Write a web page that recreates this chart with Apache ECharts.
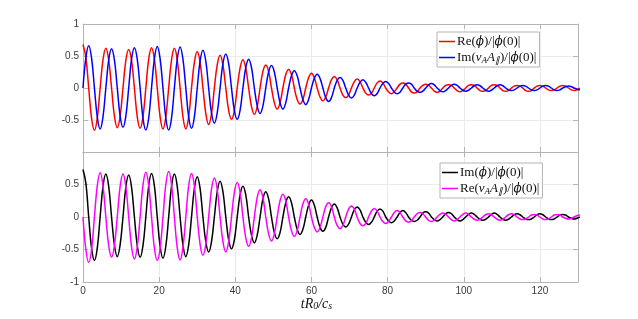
<!DOCTYPE html>
<html><head><meta charset="utf-8">
<script src="https://cdn.jsdelivr.net/npm/echarts/dist/echarts.min.js"></script>
<style>html,body{margin:0;padding:0;background:#fff}#c{width:638px;height:319px}</style>
</head><body><div id="c"></div>
<script>
// sample times (t R0 / c_s)
const tGrid = [
0,0.75,1.5,2.25, 3,3.75,4.5,5.25, 6,6.75,7.5,8.25, 9,9.75,10.5,11.25,
12,12.75,13.5,14.25, 15,15.75,16.5,17.25, 18,18.75,19.5,20.25, 21,21.75,22.5,23.25,
24,24.75,25.5,26.25, 27,27.75,28.5,29.25, 30,30.75,31.5,32.25, 33,33.75,34.5,35.25,
36,36.75,37.5,38.25, 39,39.75,40.5,41.25, 42,42.75,43.5,44.25, 45,45.75,46.5,47.25,
48,48.75,49.5,50.25, 51,51.75,52.5,53.25, 54,54.75,55.5,56.25, 57,57.75,58.5,59.25,
60,60.75,61.5,62.25, 63,63.75,64.5,65.25, 66,66.75,67.5,68.25, 69,69.75,70.5,71.25,
72,72.75,73.5,74.25, 75,75.75,76.5,77.25, 78,78.75,79.5,80.25, 81,81.75,82.5,83.25,
84,84.75,85.5,86.25, 87,87.75,88.5,89.25, 90,90.75,91.5,92.25, 93,93.75,94.5,95.25,
96,96.75,97.5,98.25, 99,99.75,100.5,101.25, 102,102.75,103.5,104.25, 105,105.75,106.5,107.25,
108,108.75,109.5,110.25, 111,111.75,112.5,113.25, 114,114.75,115.5,116.25, 117,117.75,118.5,119.25,
120,120.75,121.5,122.25, 123,123.75,124.5,125.25, 126,126.75,127.5,128.25, 129,129.75,130.5];

// top panel: Re(phi)/|phi(0)|
const rePhi = [
0.68,0.48,0,-0.47, -0.66,-0.47,0,0.44, 0.62,0.44,0,-0.44, -0.62,-0.44,0,0.43,
0.60,0.43,0,-0.45, -0.63,-0.45,0,0.45, 0.63,0.45,0,-0.45, -0.64,-0.45,0,0.44,
0.62,0.44,0,-0.45, -0.64,-0.45,0,0.40, 0.57,0.40,0,-0.40, -0.57,-0.40,0,0.36,
0.51,0.36,0,-0.35, -0.49,-0.35,0,0.31, 0.44,0.31,0,-0.29, -0.41,-0.29,0,0.26,
0.36,0.26,0,-0.23, -0.33,-0.23,0,0.21, 0.29,0.21,0,-0.18, -0.25,-0.18,0,0.16,
0.23,0.16,0,-0.14, -0.20,-0.14,0,0.13, 0.18,0.13,0,-0.11, -0.15,-0.11,0,0.10,
0.14,0.10,0,-0.08, -0.11,-0.08,0,0.08, 0.11,0.08,0,-0.06, -0.09,-0.06,0,0.06,
0.08,0.06,0,-0.06, -0.08,-0.06,0,0.04, 0.06,0.04,0,-0.05, -0.07,-0.05,0,0.04,
0.05,0.04,0,-0.04, -0.06,-0.04,0,0.04, 0.05,0.04,0,-0.04, -0.05,-0.04,0,0.04,
0.05,0.04,0,-0.04, -0.05,-0.04,0,0.03, 0.04,0.03,0,-0.04, -0.05,-0.04,0,0.03,
0.04,0.03,0,-0.03, -0.04,-0.03,0,0.03, 0.04,0.03,0,-0.03, -0.04,-0.03,0];

// top panel: Im(vA A_par)/|phi(0)|
const imVA = [
0,0.47,0.66,0.47, 0,-0.45,-0.64,-0.45, 0,0.44,0.615,0.44, 0,-0.44,-0.615,-0.44,
0,0.45,0.63,0.45, 0,-0.47,-0.657,-0.47, 0,0.46,0.65,0.46, 0,-0.47,-0.657,-0.47,
0,0.45,0.64,0.45, 0,-0.45,-0.63,-0.45, 0,0.42,0.59,0.42, 0,-0.39,-0.55,-0.39,
0,0.38,0.53,0.38, 0,-0.35,-0.49,-0.35, 0,0.32,0.45,0.32, 0,-0.28,-0.40,-0.28,
0,0.25,0.35,0.25, 0,-0.23,-0.33,-0.23, 0,0.19,0.27,0.19, 0,-0.18,-0.26,-0.18,
0,0.15,0.215,0.15, 0,-0.15,-0.21,-0.15, 0,0.12,0.165,0.12, 0,-0.11,-0.155,-0.11,
0,0.09,0.13,0.09, 0,-0.085,-0.12,-0.085, 0,0.07,0.10,0.07, 0,-0.065,-0.09,-0.065,
0,0.06,0.08,0.06, 0,-0.05,-0.07,-0.05, 0,0.05,0.07,0.05, 0,-0.04,-0.06,-0.04,
0,0.04,0.06,0.04, 0,-0.035,-0.05,-0.035, 0,0.035,0.05,0.035, 0,-0.035,-0.05,-0.035,
0,0.035,0.05,0.035, 0,-0.03,-0.04,-0.03, 0,0.03,0.04,0.03, 0,-0.03,-0.04,-0.03,
0,0.03,0.04,0.03, 0,-0.03,-0.04,-0.03, 0,0.02,0.03,0.02, 0,-0.02,-0.03];

// bottom panel: Im(phi)/|phi(0)|
const imPhi = [
0.73,0.52,0,-0.48, -0.67,-0.48,0,0.47, 0.66,0.47,0,-0.43, -0.61,-0.43,0,0.46,
0.645,0.46,0,-0.44, -0.62,-0.44,0,0.48, 0.67,0.48,0,-0.45, -0.635,-0.45,0,0.47,
0.66,0.47,0,-0.43, -0.61,-0.43,0,0.44, 0.62,0.44,0,-0.38, -0.54,-0.38,0,0.39,
0.55,0.39,0,-0.35, -0.49,-0.35,0,0.34, 0.475,0.34,0,-0.28, -0.40,-0.28,0,0.28,
0.39,0.28,0,-0.24, -0.335,-0.24,0,0.22, 0.31,0.22,0,-0.19, -0.27,-0.19,0,0.18,
0.26,0.18,0,-0.16, -0.22,-0.16,0,0.14, 0.20,0.14,0,-0.11, -0.155,-0.11,0,0.11,
0.155,0.11,0,-0.08, -0.115,-0.08,0,0.09, 0.125,0.09,0,-0.06, -0.09,-0.06,0,0.07,
0.10,0.07,0,-0.05, -0.07,-0.05,0,0.06, 0.08,0.06,0,-0.04, -0.06,-0.04,0,0.05,
0.07,0.05,0,-0.04, -0.06,-0.04,0,0.04, 0.06,0.04,0,-0.035, -0.05,-0.035,0,0.04,
0.06,0.04,0,-0.035, -0.05,-0.035,0,0.035, 0.05,0.035,0,-0.03, -0.04,-0.03,0,0.035,
0.05,0.035,0,-0.03, -0.04,-0.03,0,0.03, 0.04,0.03,0,-0.02, -0.03,-0.02,0];

// bottom panel: Re(vA A_par)/|phi(0)|
const reVA = [
0,-0.50,-0.70,-0.50, 0,0.48,0.68,0.48, 0,-0.44,-0.62,-0.44, 0,0.47,0.66,0.47,
0,-0.46,-0.645,-0.46, 0,0.49,0.69,0.49, 0,-0.48,-0.67,-0.48, 0,0.50,0.70,0.50,
0,-0.47,-0.66,-0.47, 0,0.48,0.67,0.48, 0,-0.42,-0.59,-0.42, 0,0.43,0.60,0.43,
0,-0.38,-0.54,-0.38, 0,0.38,0.53,0.38, 0,-0.32,-0.45,-0.32, 0,0.30,0.42,0.30,
0,-0.26,-0.37,-0.26, 0,0.25,0.35,0.25, 0,-0.21,-0.30,-0.21, 0,0.20,0.28,0.20,
0,-0.16,-0.23,-0.16, 0,0.16,0.22,0.16, 0,-0.13,-0.18,-0.13, 0,0.12,0.17,0.12,
0,-0.10,-0.135,-0.10, 0,0.09,0.13,0.09, 0,-0.07,-0.10,-0.07, 0,0.07,0.10,0.07,
0,-0.06,-0.08,-0.06, 0,0.05,0.07,0.05, 0,-0.05,-0.07,-0.05, 0,0.04,0.06,0.04,
0,-0.04,-0.06,-0.04, 0,0.04,0.06,0.04, 0,-0.035,-0.05,-0.035, 0,0.035,0.05,0.035,
0,-0.035,-0.05,-0.035, 0,0.035,0.05,0.035, 0,-0.03,-0.04,-0.03, 0,0.03,0.04,0.03,
0,-0.03,-0.04,-0.03, 0,0.03,0.04,0.03, 0,-0.02,-0.03,-0.02, 0,0.02,0.03];

const axisColor = '#b4b4b4', gridColor = '#ebebeb', labelColor = '#3a3a3a';
const chart = echarts.init(document.getElementById('c'), null, {renderer:'canvas'});
const serif = 'Liberation Serif';
const rich = {
  p:{fontFamily:'DejaVu Serif', fontStyle:'italic', fontSize:12, color:'#111'},
  i:{fontFamily:serif, fontStyle:'italic', fontSize:13, color:'#111'},
  s:{fontFamily:serif, fontStyle:'italic', fontSize:9, color:'#111', verticalAlign:'bottom', lineHeight:11, padding:[4,0,0,0]},
  n:{fontFamily:serif, fontSize:13, color:'#111'}
};
const legendText = {
  rePhi:'{n|Re(}{p|ϕ}{n|)/|}{p|ϕ}{n|(0)|}',
  imVA:'{n|Im(}{i|v}{s|A}{i|A}{s|∥}{n|)/|}{p|ϕ}{n|(0)|}',
  imPhi:'{n|Im(}{p|ϕ}{n|)/|}{p|ϕ}{n|(0)|}',
  reVA:'{n|Re(}{i|v}{s|A}{i|A}{s|∥}{n|)/|}{p|ϕ}{n|(0)|}'
};
function xAx(g, pos, labels) {
  return {gridIndex:g, type:'value', min:0, max:130, interval:20, position:pos,
    axisLine:{onZero:false, lineStyle:{color:axisColor, width:1}},
    axisTick:{inside:true, length:5, lineStyle:{color:axisColor}},
    axisLabel:{show:labels, color:labelColor, fontSize:10, fontFamily:'Liberation Sans', margin:4, showMaxLabel:false},
    splitLine:{show:pos==='bottom', lineStyle:{color:gridColor}},
    name: (g===1 && pos==='bottom') ? '{i|tR}{s|0}{i|/c}{s|s}' : '',
    nameLocation:'middle', nameGap:15,
    nameTextStyle:{rich:{i:{fontFamily:serif, fontStyle:'italic', fontSize:14, color:'#111'}, s:{fontFamily:serif, fontStyle:'italic', fontSize:10, color:'#111', verticalAlign:'bottom', lineHeight:12, padding:[4,0,0,0]}}, padding:[0,28,0,0]}
  };
}
function yAx(g, pos, labels, hide) {
  return {gridIndex:g, type:'value', min:-1, max:1, interval:0.5, position:pos,
    axisLine:{onZero:false, lineStyle:{color:axisColor, width:1}},
    axisTick:{inside:true, length:5, lineStyle:{color:axisColor}},
    axisLabel:{show:labels, color:labelColor, fontSize:10, fontFamily:'Liberation Sans', margin:4,
      formatter: v => (v===hide ? '' : String(v))},
    splitLine:{show:pos==='left', lineStyle:{color:gridColor}}
  };
}
function ser(name, arr, color, xi, yi) {
  return {name, type:'line', xAxisIndex:xi, yAxisIndex:yi, data:tGrid.map((t,k)=>[t, arr[k]]),
    showSymbol:false, smooth:0.4, lineStyle:{color, width:1.5}, itemStyle:{color}, clip:true, z:3};
}
function leg(names, left, top) {
  return {data:names, left, top, orient:'vertical', icon:'rect', itemWidth:16, itemHeight:1.5, itemGap:1,
    backgroundColor:'#fff', borderColor:'#b4b4b4', borderWidth:1, borderRadius:0, padding:[2,3,2,2],
    formatter: n => legendText[n], textStyle:{rich, lineHeight:15, padding:[0,0,0,-3]}, selectedMode:false};
}
chart.setOption({
  animation:false,
  grid:[{left:83, top:24, width:495, height:128}, {left:83, top:152, width:495, height:130}],
  xAxis:[xAx(0,'bottom',false), xAx(0,'top',false), xAx(1,'bottom',true), xAx(1,'top',false)],
  yAxis:[yAx(0,'left',true,-1), yAx(0,'right',false), yAx(1,'left',true,1), yAx(1,'right',false)],
  legend:[leg(['rePhi','imVA'],437,32), leg(['imPhi','reVA'],440,163)],
  series:[
    ser('rePhi', rePhi, '#ff0000', 0, 0),
    ser('imVA', imVA, '#0000ff', 0, 0),
    ser('imPhi', imPhi, '#000000', 2, 2),
    ser('reVA', reVA, '#ff00ff', 2, 2)
  ]
});
</script></body></html>
